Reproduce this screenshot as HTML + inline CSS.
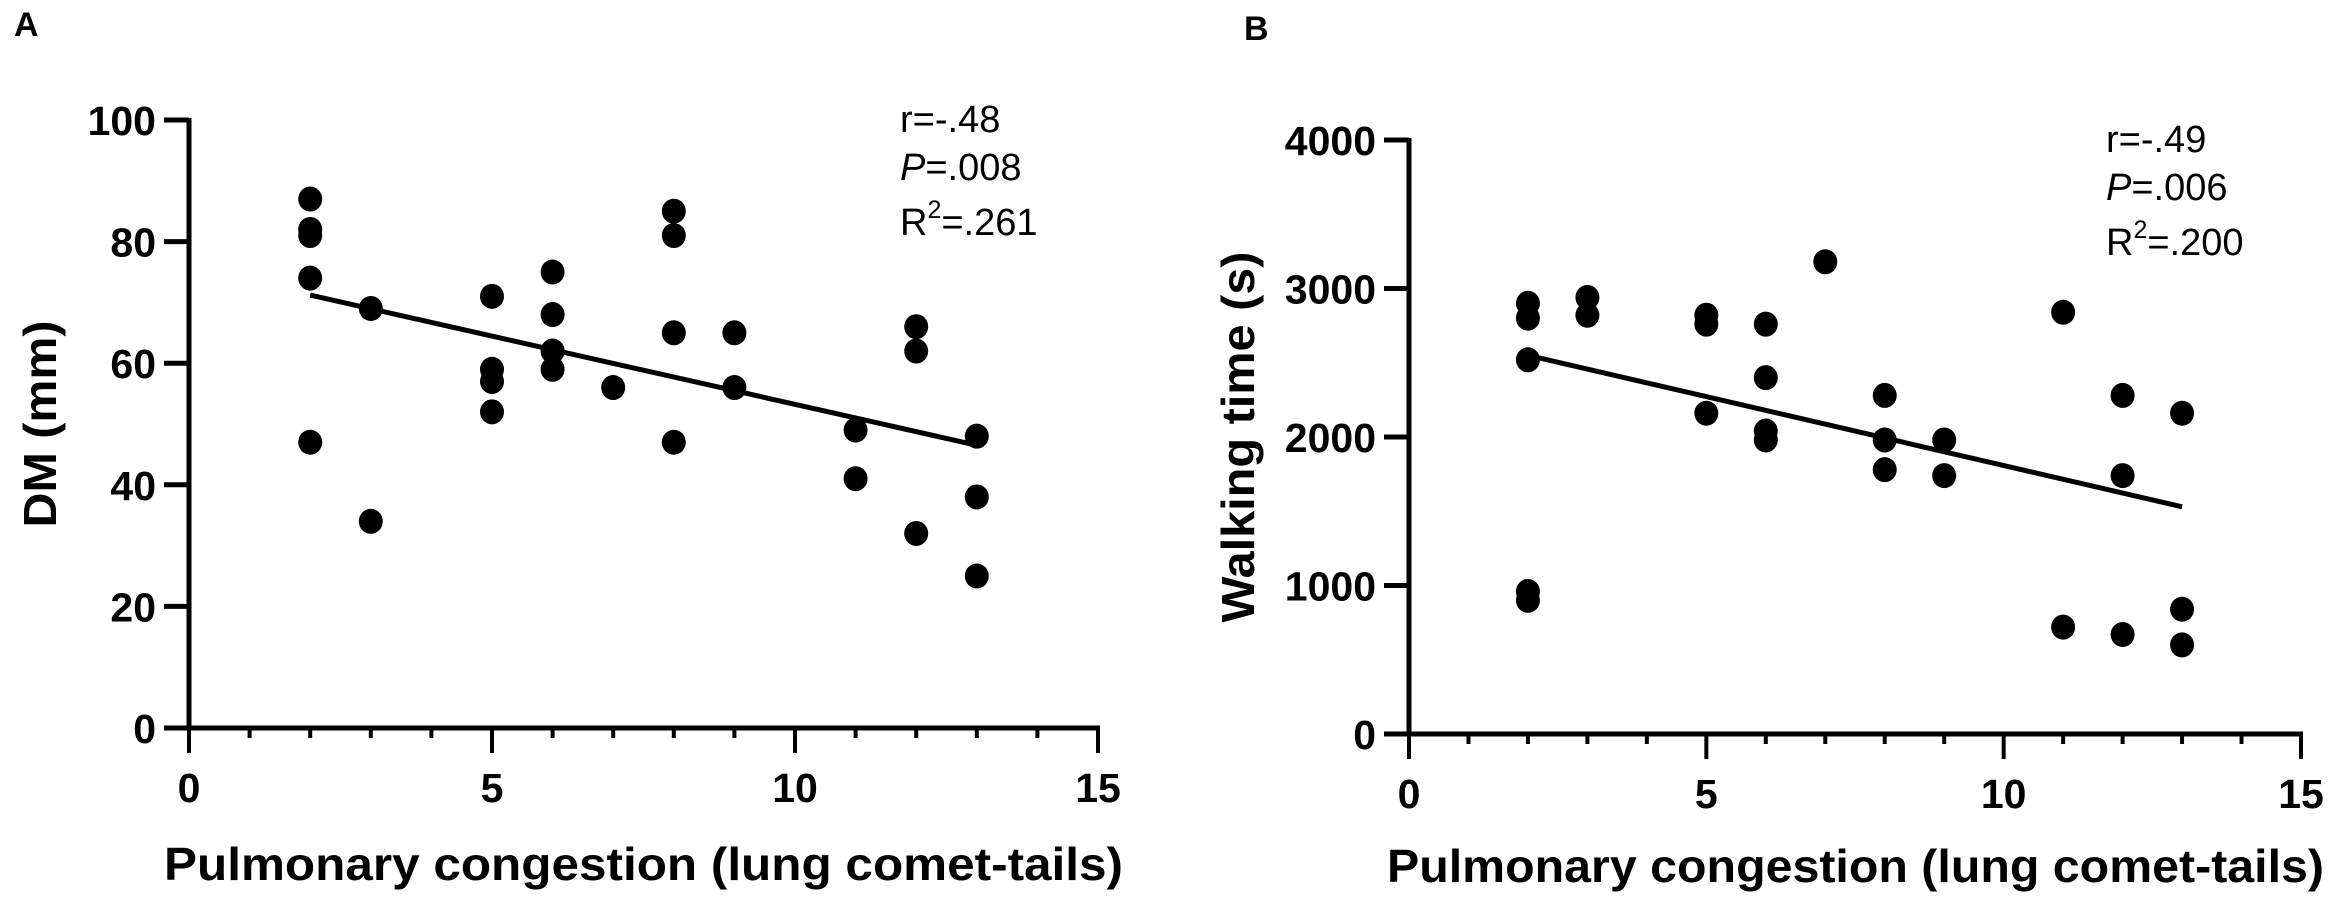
<!DOCTYPE html>
<html><head><meta charset="utf-8"><style>
html,body{margin:0;padding:0;background:#fff;}
svg{display:block;}
text{font-family:"Liberation Sans",Arial,sans-serif;fill:#000;}
.tick{font-weight:bold;font-size:41px;}
.title{font-weight:bold;font-size:46px;}
.stat{font-size:38px;}
</style></head><body>
<svg id="fig" width="2341" height="911" viewBox="0 0 2341 911" xmlns="http://www.w3.org/2000/svg">
<text x="14" y="36" font-weight="bold" font-size="34">A</text>
<text x="1244" y="40" font-weight="bold" font-size="34">B</text>
</svg>
<script>
// Panel A data
const aX = [2,2,2,2,2, 3,3, 5,5,5,5, 6,6,6,6, 7, 8,8,8,8, 9,9, 11,11, 12,12,12, 13,13,13];
const aY = [87,82,81,74,47, 69,34, 71,59,57,52, 75,68,62,59, 56, 85,81,65,47, 65,56, 49,41, 66,62,32, 48,38,25];
const aFitX = [2,13];
const aFitY = [71.2,46.5];
const aYTicks = [0,20,40,60,80,100];
const aXTicks = [0,5,10,15];
// Panel B data
const bX = [2,2,2,2,2, 3,3, 5,5,5, 6,6,6,6, 7, 8,8,8, 9,9, 11,11, 12,12,12, 13,13,13];
const bY = [2900,2800,2520,960,900, 2940,2820, 2820,2760,2160, 2760,2400,2040,1980, 3180, 2280,1980,1780, 1980,1740, 2840,720, 2280,1740,670, 2160,840,600];
const bFitX = [2,13];
const bFitY = [2550,1530];
const bYTicks = [0,1000,2000,3000,4000];
const bXTicks = [0,5,10,15];

const NS = "http://www.w3.org/2000/svg";
const svg = document.getElementById('fig');
function mk(tag, attrs, parent){
  const e = document.createElementNS(NS, tag);
  for (const k in attrs) e.setAttribute(k, attrs[k]);
  (parent||svg).appendChild(e);
  return e;
}
function panel(cfg){
  const g = mk('g', {});
  
  
  const sx = v => cfg.x0 + (v - 0) / 15 * (cfg.x1 - cfg.x0);
  const sy = v => cfg.y0 - v / cfg.ymax * (cfg.y0 - cfg.yTop);
  const ya = mk('line', {x1:cfg.x0, y1:cfg.y0+2, x2:cfg.x0, y2:cfg.yTop-2, stroke:'#000','stroke-width':5}, g);
  
  
  cfg.yTicks.forEach(t => {
    const y = sy(t);
    const tl = mk('line', {x1:cfg.x0-25, y1:y, x2:cfg.x0, y2:y, stroke:'#000','stroke-width':5}, g);
    
    
    const tx = mk('text', {x:cfg.x0-33, y:y+15, 'text-anchor':'end', class:'tick'}, g);
    tx.textContent = t;
    
    
  });
  const xa = mk('line', {x1:cfg.x0-25, y1:cfg.y0, x2:cfg.x1+2, y2:cfg.y0, stroke:'#000','stroke-width':5}, g);
  
  
  for (let i = 0; i <= 15; i++){
    const major = i % 5 === 0;
    const x = sx(i);
    const tl = mk('line', {x1:x, y1:cfg.y0, x2:x, y2:cfg.y0+(major?25:10), stroke:'#000','stroke-width':4}, g);
    
    
  }
  cfg.xTicks.forEach(t => {
    const tx = mk('text', {x:sx(t), y:cfg.y0+74, 'text-anchor':'middle', class:'tick'}, g);
    tx.textContent = t;
    
    
  });
  const xt = mk('text', {x:cfg.xtX, y:cfg.xtY, class:'title', textLength:cfg.xtLen, lengthAdjust:'spacingAndGlyphs'}, g);
  xt.textContent = 'Pulmonary congestion (lung comet-tails)';
  
  
  const yt = mk('text', {x:0, y:0, class:'title', 'text-anchor':'middle', textLength:cfg.ytLen, lengthAdjust:'spacingAndGlyphs',
    transform:`translate(${cfg.ytX},${cfg.ytY}) rotate(-90)`}, g);
  yt.textContent = cfg.ytitle;
  
  
  const fl = mk('line', {x1:sx(cfg.fitX[0]), y1:sy(cfg.fitY[0]), x2:sx(cfg.fitX[1]), y2:sy(cfg.fitY[1]), stroke:'#000','stroke-width':5}, g);
  
  
  cfg.xs.forEach((xv, i) => {
    const c = mk('ellipse', {cx:sx(xv), cy:sy(cfg.ys[i]), rx:12, ry:12.5, fill:'#000'}, g);
    
    
  });
  const st = mk('text', {x:cfg.stX, y:cfg.stY, class:'stat'}, g);
  
  
  const t1 = mk('tspan', {x:cfg.stX, y:cfg.stY}, st); t1.textContent = cfg.r;
  const t2 = mk('tspan', {x:cfg.stX, y:cfg.stY+48, 'font-style':'italic'}, st); t2.textContent = 'P';
  const t3 = mk('tspan', {}, st); t3.textContent = cfg.p;
  const t4 = mk('tspan', {x:cfg.stX, y:cfg.stY+103}, st); t4.textContent = 'R';
  const t5 = mk('tspan', {dy:-17, 'font-size':25}, st); t5.textContent = '2';
  const t6 = mk('tspan', {dy:17}, st); t6.textContent = cfg.r2;
}
panel({name:'panel-a-chart', x0:189, x1:1098, y0:728, yTop:120, ymax:100,
  yTicks:aYTicks, xTicks:aXTicks, xs:aX, ys:aY, fitX:aFitX, fitY:aFitY,
  xtX:164, xtY:880, xtLen:959, ytX:56, ytY:424, ytLen:207, ytitle:'DM (mm)',
  stX:900, stY:132, r:'r=-.48', p:'=.008', r2:'=.261'});
panel({name:'panel-b-chart', x0:1409, x1:2301, y0:734, yTop:140, ymax:4000,
  yTicks:bYTicks, xTicks:bXTicks, xs:bX, ys:bY, fitX:bFitX, fitY:bFitY,
  xtX:1387, xtY:882, xtLen:937, ytX:1254, ytY:437, ytLen:371, ytitle:'Walking time (s)',
  stX:2106, stY:152, r:'r=-.49', p:'=.006', r2:'=.200'});
</script>
</body></html>
